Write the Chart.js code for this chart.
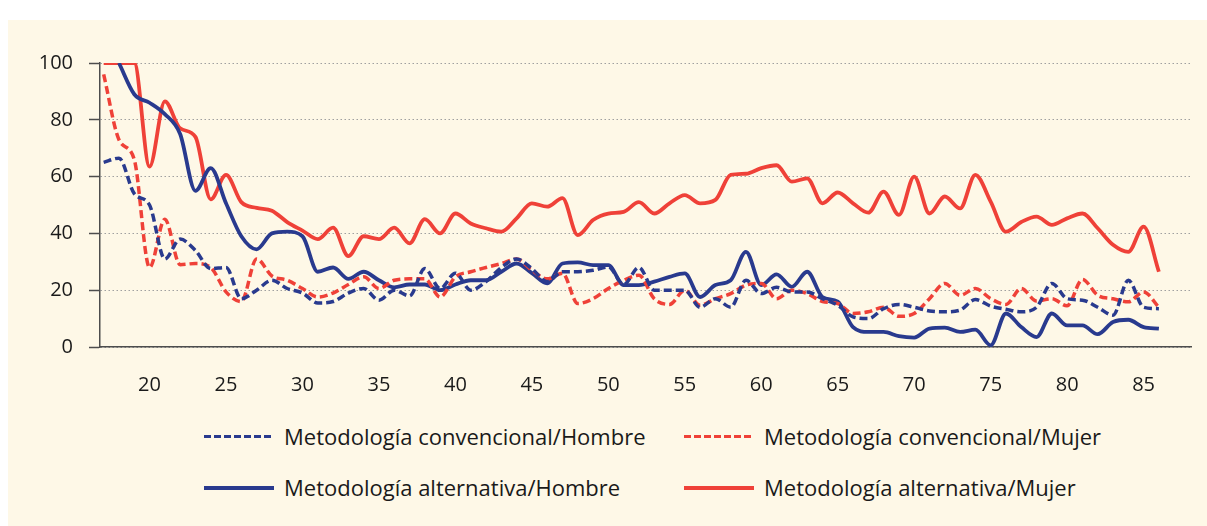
<!DOCTYPE html>
<html>
<head>
<meta charset="utf-8">
<script src="https://cdn.jsdelivr.net/npm/chart.js@4/dist/chart.umd.min.js"></script>
<style>
  html, body { margin: 0; padding: 0; background: #ffffff; }
  body { width: 1207px; height: 526px; position: relative; overflow: hidden; font-family: "Open Sans", sans-serif; }
  #panel { position: absolute; left: 8px; top: 20px; right: 0; bottom: 0; background: #fef8e7; }
  #chart { position: absolute; left: 0; top: 0; }
  .sw { position: absolute; width: 70px; height: 4px; }
  .lbl { position: absolute; font-size: 22px; line-height: 26px; color: #1a1a1a; white-space: nowrap; }
</style>
</head>
<body>
<div id="panel"></div>
<canvas id="chart" width="1207" height="410"></canvas>
<div id="legend"></div>
<script>
    // edades 17..86
    var ages = [17,18,19,20,21,22,23,24,25,26,27,28,29,30,31,32,33,34,35,36,37,38,39,40,41,42,43,44,45,46,47,48,49,50,51,52,53,54,55,56,57,58,59,60,61,62,63,64,65,66,67,68,69,70,71,72,73,74,75,76,77,78,79,80,81,82,83,84,85,86];

    var convHombre = [65,66.5,54,50,31,38,34,27.6,28,17,20,23.5,20.6,19,15.5,16,19,20.6,16.5,20,18,27.6,20.6,26,20,23,28,31,27.6,23,26.5,26.5,27,28.2,22,28,20,20,20,14,17,14,23.5,18.8,21,19.4,19.4,17,14.7,10.6,10,13.5,15,14,12.7,12.4,13,16.7,14.4,13.3,12.4,14,22.4,17,16.5,14,11.2,23.5,14,13.5];
    var convMujer = [96,73,66,28,45,29,29.4,28,19.4,16,31,25,23.5,20.6,17.6,19,22,24.7,20.6,23.5,24,24,17.6,24.7,26.5,28,29.4,31,27,24,26,15.3,17,20.6,23.5,25.3,17,15,20,14.7,17,18.8,21.8,22.4,17,20,18.8,16,15.3,11.8,12.4,14,10.8,11.8,17,22.4,18.2,20.6,17,15,20.6,16.2,17,14.5,23.8,18.2,17,15.9,19.4,14];
    var altHombre = [null,100,89,86,82,75,55,63,50.6,39,34.4,40,40.6,39,26.5,28,24,26.5,23.5,21,22,22,20,22,23.5,23.5,26.5,29.4,26,22.4,29.4,29.8,28.8,28.8,21.8,21.8,23,24.7,25.9,17.6,21.8,23.5,33.5,21.8,25.6,21.2,26.5,17.6,16,7,5.3,5.3,3.8,3.3,6.5,6.8,5.3,6.1,0.6,11.8,7,3.5,11.8,7.6,7.6,4.5,8.8,9.6,7,6.5];
    var altMujer = [100,100,100,63.5,86.5,77,74,52,60.6,51,49,48,44,41,38,42,32,39,38,42,36.5,45,40,47,43.5,41.8,40.6,45.3,50.6,49.4,52.4,39.4,44.7,47,47.6,51,47,50.6,53.5,50.6,51.8,60.6,61,63,64,58.2,59.4,50.6,54.4,50.6,47.3,54.7,46.5,60,47,53,48.8,60.6,51.2,40.6,44,45.9,43,45.3,47,41.8,36,33.5,42.4,26.5];

    var xTicks = [20,25,30,35,40,45,50,55,60,65,70,75,80,85];
    var yTicks = [0,20,40,60,80,100];
    var seriesNames = ['Metodología convencional/Hombre','Metodología convencional/Mujer','Metodología alternativa/Hombre','Metodología alternativa/Mujer'];

    var BLUE = '#293a8e';
    var RED = '#ef4138';

    function pts(vals) {
      return ages.map(function (a, i) { return {x: a, y: vals[i]}; });
    }

    var ctx = document.getElementById('chart').getContext('2d');
    var chart = new Chart(ctx, {
      type: 'line',
      data: {
        datasets: [
          {label: seriesNames[0], data: pts(convHombre), borderColor: BLUE, borderWidth: 3.5, borderDash: [8,4], tension: 0.25},
          {label: seriesNames[1], data: pts(convMujer), borderColor: RED, borderWidth: 3.5, borderDash: [8,4], tension: 0.25},
          {label: seriesNames[2], data: pts(altHombre), borderColor: BLUE, borderWidth: 3.8, tension: 0.35},
          {label: seriesNames[3], data: pts(altMujer), borderColor: RED, borderWidth: 3.8, tension: 0.35}
        ]
      },
      options: {
        responsive: false,
        animation: false,
        devicePixelRatio: 1,
        layout: { autoPadding: false, padding: {left: 0, right: 16, top: 63, bottom: 0} },
        elements: { point: { radius: 0 }, line: { cubicInterpolationMode: 'monotone', borderCapStyle: 'butt' } },
        plugins: { legend: { display: false }, tooltip: { enabled: false } },
        scales: {
          x: {
            type: 'linear',
            min: 16.76,
            max: 88.1,
            afterBuildTicks: function (s) { s.ticks = xTicks.map(function (v) { return {value: v}; }); },
            afterFit: function (s) { s.height = 410 - 347; },
            grid: { display: false },
            border: { display: true, color: '#4d4d4d', width: 1.5 },
            ticks: { color: '#1a1a1a', font: {family: 'Open Sans', size: 20}, padding: 18, maxRotation: 0, autoSkip: false }
          },
          y: {
            min: 0,
            max: 100,
            afterBuildTicks: function (s) { s.ticks = yTicks.map(function (v) { return {value: v}; }); },
            afterFit: function (s) { s.width = 100; },
            grid: { color: '#a0a0a0', lineWidth: 1, tickLength: 11, tickColor: '#4d4d4d', tickWidth: 1.5 },
            border: { display: true, color: '#4d4d4d', width: 1.5, dash: [1.5, 2.5] },
            ticks: { color: '#1a1a1a', font: {family: 'Open Sans', size: 20}, padding: 16 }
          }
        }
      }
    });

    // leyenda en dos columnas
    var legend = document.getElementById('legend');
    var legendItems = [
      {name: seriesNames[0], color: BLUE, dashed: true, x: 204, y: 437},
      {name: seriesNames[1], color: RED, dashed: true, x: 684, y: 437},
      {name: seriesNames[2], color: BLUE, dashed: false, x: 204, y: 488},
      {name: seriesNames[3], color: RED, dashed: false, x: 684, y: 488}
    ];
    legendItems.forEach(function (it) {
      var sw = document.createElement('div');
      sw.className = 'sw';
      sw.style.left = it.x + 'px';
      sw.style.top = (it.y - 2) + 'px';
      if (it.dashed) {
        sw.style.height = '3px';
        sw.style.background = 'repeating-linear-gradient(90deg,' + it.color + ' 0 7px, transparent 7px 10px)';
      } else {
        sw.style.background = it.color;
      }
      legend.appendChild(sw);
      var t = document.createElement('div');
      t.className = 'lbl';
      t.textContent = it.name;
      t.style.left = (it.x + 80) + 'px';
      t.style.top = (it.y - 14) + 'px';
      legend.appendChild(t);
    });
</script>
</body>
</html>
